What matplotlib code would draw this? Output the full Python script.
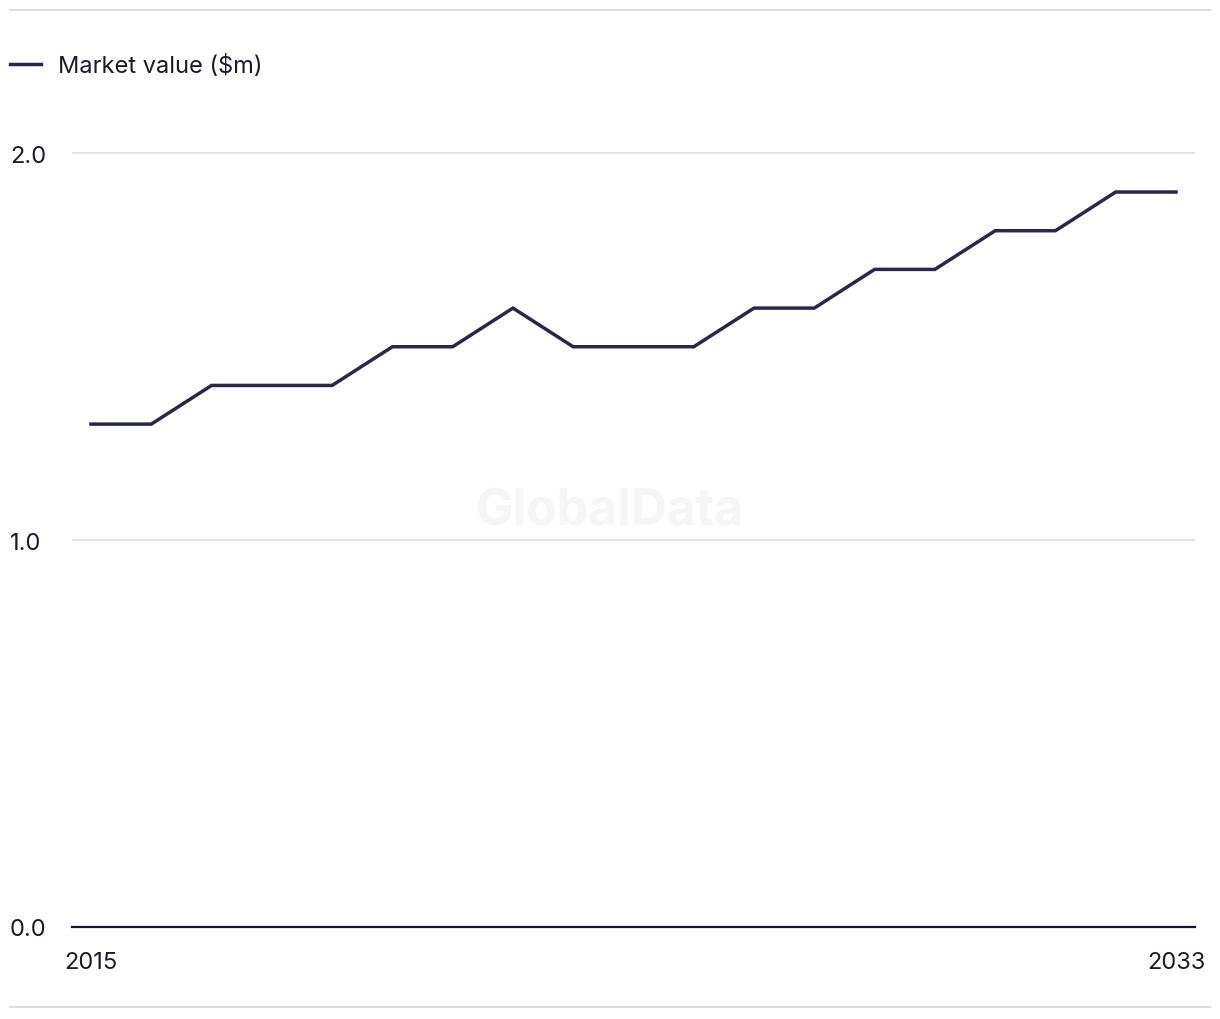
import matplotlib.pyplot as plt
from matplotlib.lines import Line2D

years = list(range(2015, 2034))
market_value = [1.3, 1.3, 1.4, 1.4, 1.4, 1.5, 1.5, 1.6, 1.5, 1.5,
                1.5, 1.6, 1.6, 1.7, 1.7, 1.8, 1.8, 1.9, 1.9]
y_ticks = [0.0, 1.0, 2.0]
x_ticks = [2015, 2033]

plt.rcParams['font.family'] = ['Inter', 'DejaVu Sans']

W, H = 1220, 1020
fig = plt.figure(figsize=(W / 100, H / 100), dpi=100)

# axes box in pixel terms
left, right, bottom, top = 72, 1195, 928, 135
ax = fig.add_axes([left / W, 1 - bottom / H, (right - left) / W, (bottom - top) / H])

line_color = '#28274a'
ax.plot(years, market_value, color=line_color, lw=2.5, label='Market value ($m)',
        solid_joinstyle='miter')

ax.set_xlim(2014.685, 2033.315)
ax.set_ylim(0, 2.05)
ax.set_yticks(y_ticks)
ax.set_yticklabels([f'{v:.1f}' for v in y_ticks])
ax.set_xticks(x_ticks)
ax.set_xticklabels([str(x) for x in x_ticks])

for s in ['top', 'right', 'left']:
    ax.spines[s].set_visible(False)
ax.spines['bottom'].set_color('#14142a')
ax.spines['bottom'].set_linewidth(1.6)

ax.grid(axis='y', color='#dddddd', lw=1.2)
ax.set_axisbelow(True)
ax.tick_params(axis='both', length=0, labelsize=17, labelcolor='#1a1a2e')
ax.tick_params(axis='y', pad=44.6)
ax.tick_params(axis='x', pad=17)
for lbl in ax.get_yticklabels():
    lbl.set_horizontalalignment('left')

# watermark
fig.text(610 / W, 1 - 512 / H, 'GlobalData', fontsize=36, fontweight='bold',
         color='#f6f6f6', ha='center', va='center', zorder=0)

ax.legend(loc='center left', bbox_to_anchor=(10 / W, 1 - 67 / H),
          bbox_transform=fig.transFigure, frameon=False, borderpad=0,
          borderaxespad=0, handlelength=1.3, handletextpad=0.75,
          fontsize=17, labelcolor='#1a1a2e')

# separators at top and bottom
for yy in (11, 1008):
    fig.add_artist(Line2D([10 / W, 1210 / W], [1 - yy / H, 1 - yy / H],
                          transform=fig.transFigure, color='#dddddd', lw=1.5))

fig.savefig('out.png', dpi=100, facecolor='white')
